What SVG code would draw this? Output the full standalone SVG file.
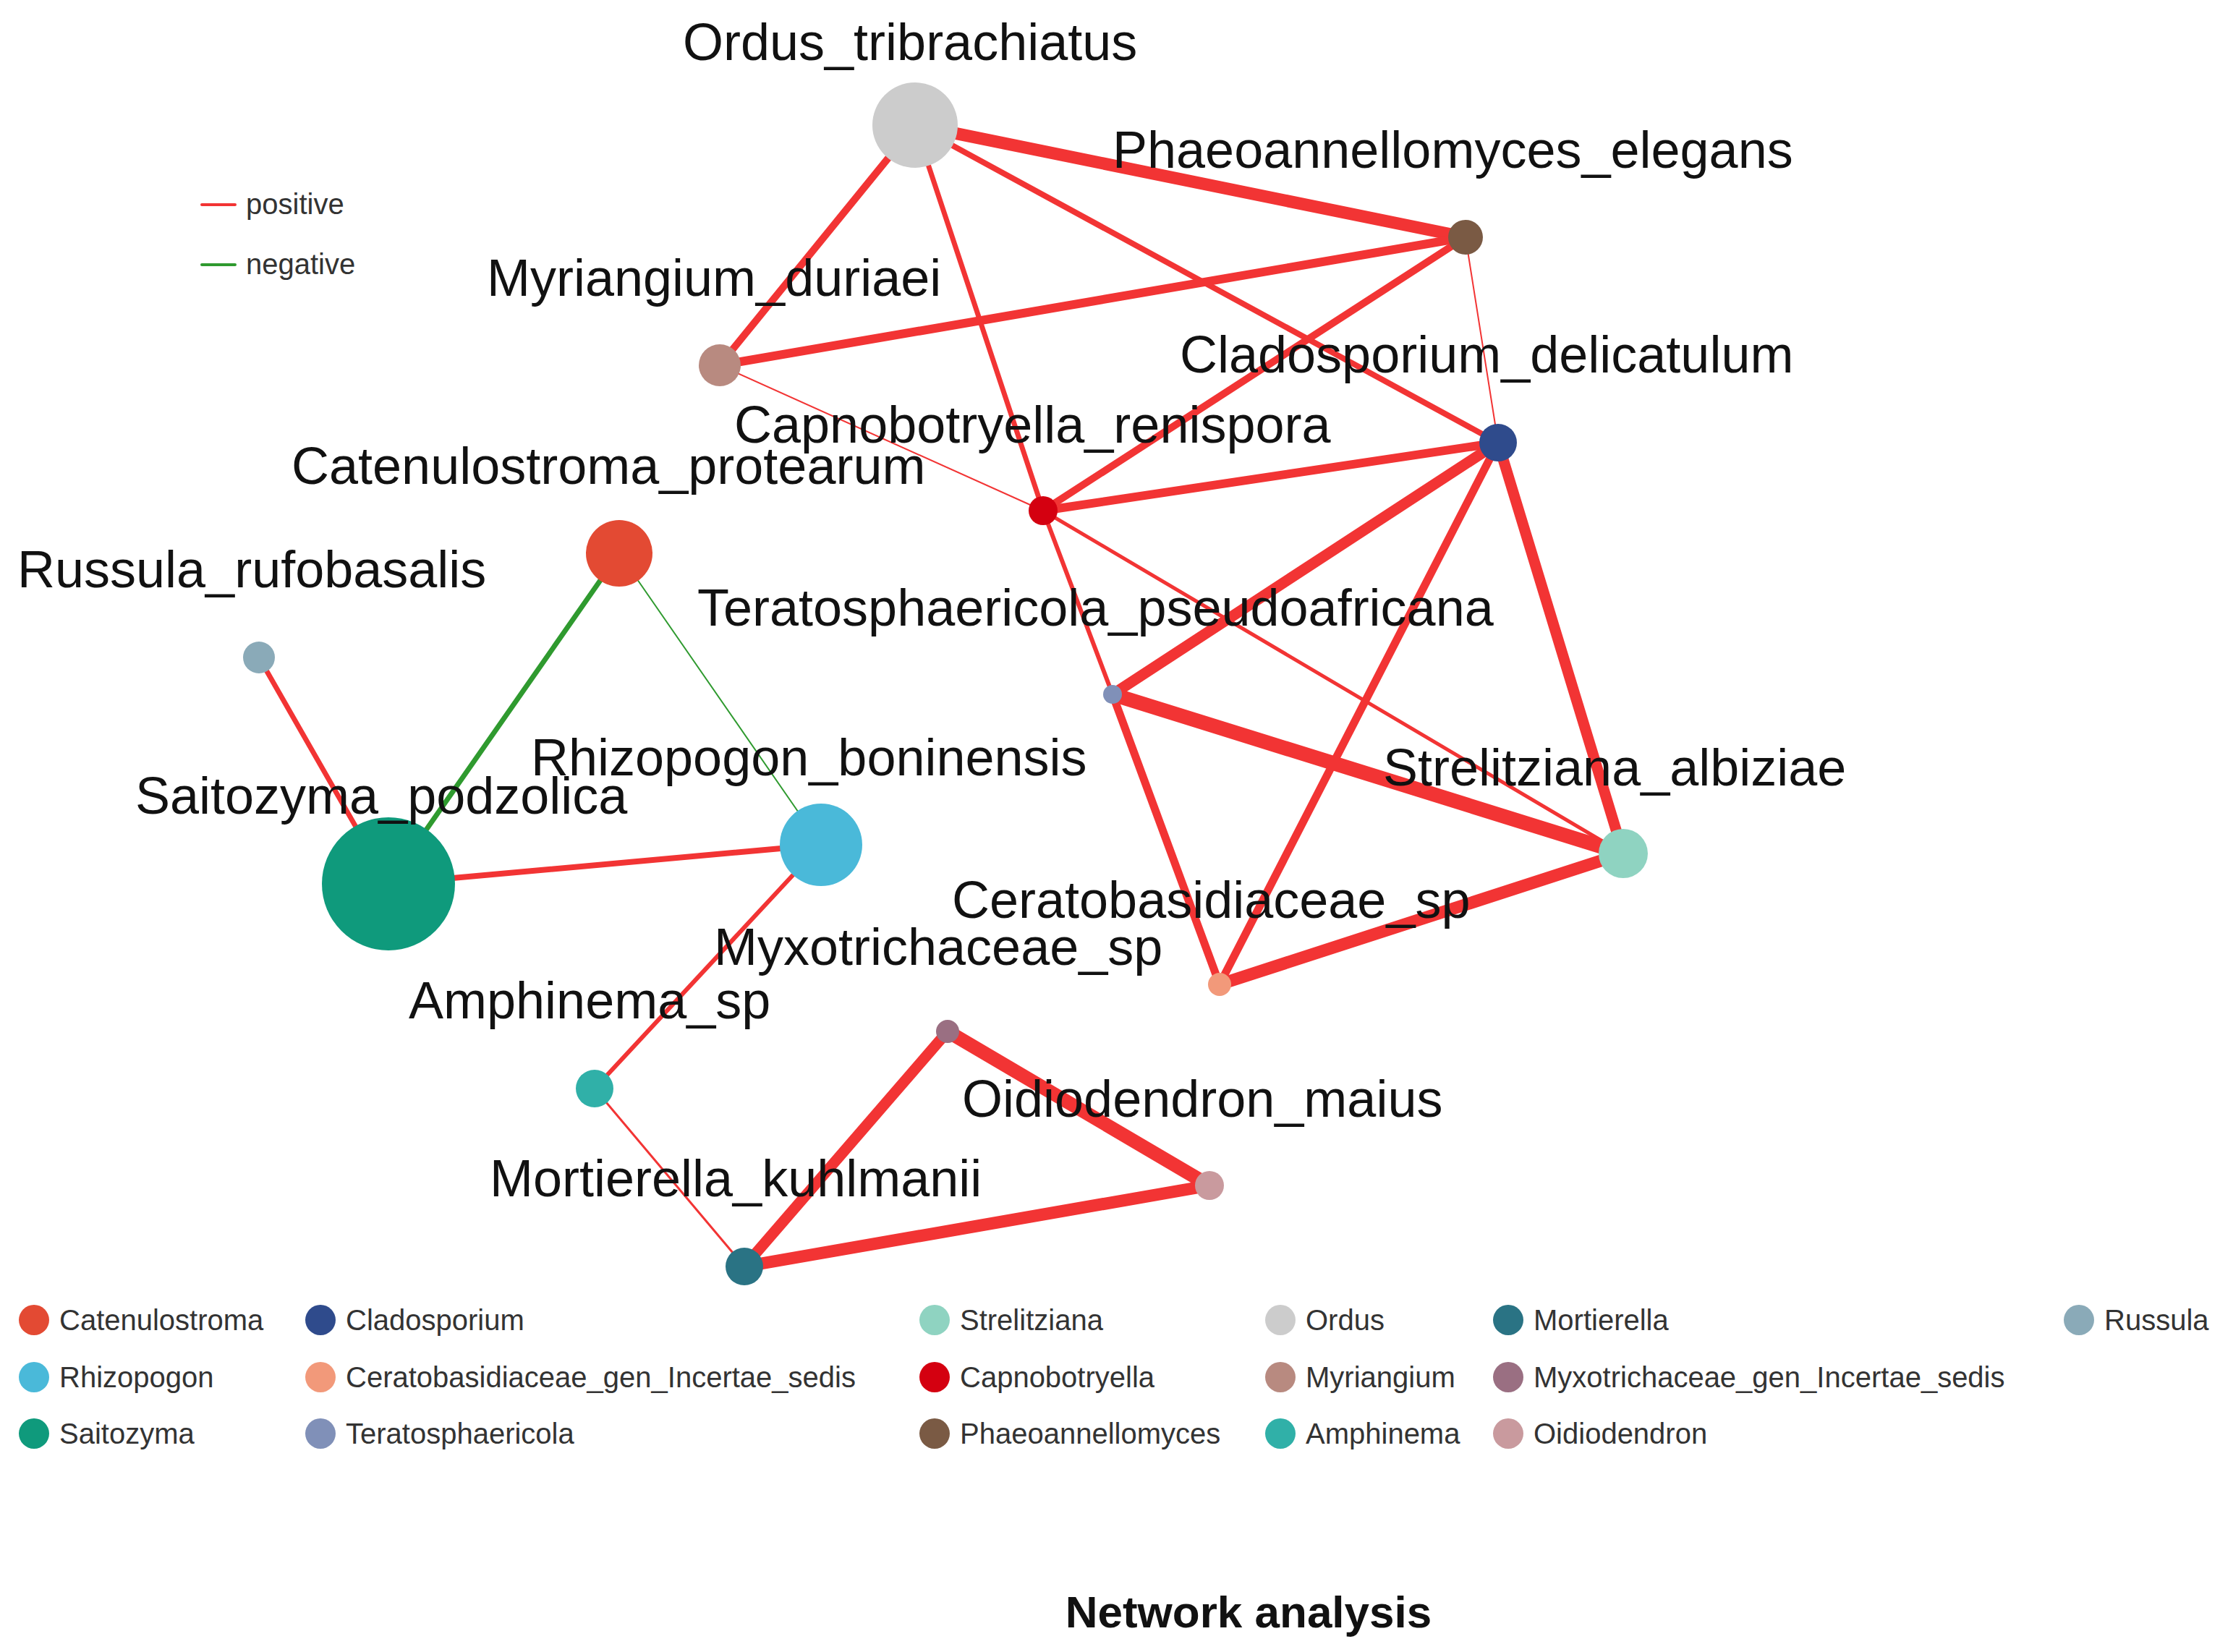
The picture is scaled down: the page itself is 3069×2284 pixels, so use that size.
<svg xmlns="http://www.w3.org/2000/svg" width="3069" height="2284" viewBox="0 0 3069 2284">
<style>
text{font-family:"Liberation Sans",Arial,sans-serif;fill:#111}
.lbl{font-size:72px}
.lg{font-size:40px;fill:#333}
.pos{stroke:#f23434;stroke-linecap:round}
.neg{stroke:#2f9a2f;stroke-linecap:round}
</style>
<rect width="3069" height="2284" fill="#fff"/>
<g id="legend-edges">
<line x1="279" y1="283" x2="325" y2="283" class="pos" stroke-width="4"/>
<text x="340" y="296" class="lg">positive</text>
<line x1="279" y1="366" x2="325" y2="366" class="neg" stroke-width="4"/>
<text x="340" y="379" class="lg">negative</text>
</g>
<g id="connectors">
<line x1="1265" y1="173" x2="2026" y2="328" class="pos" stroke-width="17"/>
<line x1="1265" y1="173" x2="995" y2="505" class="pos" stroke-width="10"/>
<line x1="1265" y1="173" x2="2071" y2="612" class="pos" stroke-width="8"/>
<line x1="1265" y1="173" x2="1442" y2="706" class="pos" stroke-width="7"/>
<line x1="2026" y1="328" x2="995" y2="505" class="pos" stroke-width="12"/>
<line x1="2026" y1="328" x2="1442" y2="706" class="pos" stroke-width="10"/>
<line x1="2026" y1="328" x2="2071" y2="612" class="pos" stroke-width="2"/>
<line x1="995" y1="505" x2="1442" y2="706" class="pos" stroke-width="2"/>
<line x1="1442" y1="706" x2="2071" y2="612" class="pos" stroke-width="12"/>
<line x1="1442" y1="706" x2="2244" y2="1180" class="pos" stroke-width="5"/>
<line x1="1442" y1="706" x2="1538" y2="960" class="pos" stroke-width="6"/>
<line x1="2071" y1="612" x2="1538" y2="960" class="pos" stroke-width="15"/>
<line x1="2071" y1="612" x2="1686" y2="1361" class="pos" stroke-width="11"/>
<line x1="2071" y1="612" x2="2244" y2="1180" class="pos" stroke-width="15"/>
<line x1="1538" y1="960" x2="2244" y2="1180" class="pos" stroke-width="20"/>
<line x1="1538" y1="960" x2="1686" y2="1361" class="pos" stroke-width="11"/>
<line x1="1686" y1="1361" x2="2244" y2="1180" class="pos" stroke-width="17"/>
<line x1="856" y1="765" x2="537" y2="1222" class="neg" stroke-width="7"/>
<line x1="856" y1="765" x2="1135" y2="1168" class="neg" stroke-width="2"/>
<line x1="358" y1="909" x2="537" y2="1222" class="pos" stroke-width="7"/>
<line x1="537" y1="1222" x2="1135" y2="1168" class="pos" stroke-width="8"/>
<line x1="1135" y1="1168" x2="822" y2="1505" class="pos" stroke-width="6"/>
<line x1="822" y1="1505" x2="1029" y2="1751" class="pos" stroke-width="3"/>
<line x1="1029" y1="1751" x2="1310" y2="1426" class="pos" stroke-width="15"/>
<line x1="1029" y1="1751" x2="1672" y2="1639" class="pos" stroke-width="17"/>
<line x1="1310" y1="1426" x2="1672" y2="1639" class="pos" stroke-width="19"/>
</g>
<g id="n-ordus"><circle cx="1265" cy="173" r="59" fill="#cccccc"/></g>
<g id="n-phaeo"><circle cx="2026" cy="328" r="24" fill="#7a5a44"/></g>
<g id="n-myriangium"><circle cx="995" cy="505" r="29" fill="#b88a80"/></g>
<g id="n-cladosporium"><circle cx="2071" cy="612" r="26" fill="#2f4b8c"/></g>
<g id="n-capno"><circle cx="1442" cy="706" r="20" fill="#d40010"/></g>
<g id="n-catenulostroma"><circle cx="856" cy="765" r="46" fill="#e34a33"/></g>
<g id="n-russula"><circle cx="358" cy="909" r="22" fill="#8aaab8"/></g>
<g id="n-teratosph"><circle cx="1538" cy="960" r="13" fill="#8090b8"/></g>
<g id="n-strelitziana"><circle cx="2244" cy="1180" r="34" fill="#8fd3c1"/></g>
<g id="n-saitozyma"><circle cx="537" cy="1222" r="92" fill="#0f9a7c"/></g>
<g id="n-rhizopogon"><circle cx="1135" cy="1168" r="57" fill="#4ab9d9"/></g>
<g id="n-ceratobas"><circle cx="1686" cy="1361" r="16" fill="#f2997a"/></g>
<g id="n-myxotrich"><circle cx="1310" cy="1426" r="16" fill="#9a6f82"/></g>
<g id="n-amphinema"><circle cx="822" cy="1505" r="26" fill="#30b0a8"/></g>
<g id="n-oidiodendron"><circle cx="1672" cy="1639" r="20" fill="#c99a9e"/></g>
<g id="n-mortierella"><circle cx="1029" cy="1751" r="26" fill="#2a7384"/></g>
<g id="labels">
<text class="lbl" x="944" y="83">Ordus_tribrachiatus</text>
<text class="lbl" x="1538" y="232">Phaeoannellomyces_elegans</text>
<text class="lbl" x="673" y="409">Myriangium_duriaei</text>
<text class="lbl" x="1631" y="515">Cladosporium_delicatulum</text>
<text class="lbl" x="1015" y="612">Capnobotryella_renispora</text>
<text class="lbl" x="403" y="669">Catenulostroma_protearum</text>
<text class="lbl" x="24" y="812">Russula_rufobasalis</text>
<text class="lbl" x="964" y="865">Teratosphaericola_pseudoafricana</text>
<text class="lbl" x="734" y="1072">Rhizopogon_boninensis</text>
<text class="lbl" x="1912" y="1086">Strelitziana_albiziae</text>
<text class="lbl" x="187" y="1125">Saitozyma_podzolica</text>
<text class="lbl" x="1316" y="1269">Ceratobasidiaceae_sp</text>
<text class="lbl" x="987" y="1334">Myxotrichaceae_sp</text>
<text class="lbl" x="565" y="1408">Amphinema_sp</text>
<text class="lbl" x="1330" y="1544">Oidiodendron_maius</text>
<text class="lbl" x="677" y="1654">Mortierella_kuhlmanii</text>
</g>
<g id="legend-genus">
<circle cx="47" cy="1825" r="21" fill="#e34a33"/><text class="lg" x="82" y="1839">Catenulostroma</text>
<circle cx="47" cy="1904" r="21" fill="#4ab9d9"/><text class="lg" x="82" y="1918">Rhizopogon</text>
<circle cx="47" cy="1982" r="21" fill="#0f9a7c"/><text class="lg" x="82" y="1996">Saitozyma</text>
<circle cx="443" cy="1825" r="21" fill="#2f4b8c"/><text class="lg" x="478" y="1839">Cladosporium</text>
<circle cx="443" cy="1904" r="21" fill="#f2997a"/><text class="lg" x="478" y="1918">Ceratobasidiaceae_gen_Incertae_sedis</text>
<circle cx="443" cy="1982" r="21" fill="#8090b8"/><text class="lg" x="478" y="1996">Teratosphaericola</text>
<circle cx="1292" cy="1825" r="21" fill="#8fd3c1"/><text class="lg" x="1327" y="1839">Strelitziana</text>
<circle cx="1292" cy="1904" r="21" fill="#d40010"/><text class="lg" x="1327" y="1918">Capnobotryella</text>
<circle cx="1292" cy="1982" r="21" fill="#7a5a44"/><text class="lg" x="1327" y="1996">Phaeoannellomyces</text>
<circle cx="1770" cy="1825" r="21" fill="#cccccc"/><text class="lg" x="1805" y="1839">Ordus</text>
<circle cx="1770" cy="1904" r="21" fill="#b88a80"/><text class="lg" x="1805" y="1918">Myriangium</text>
<circle cx="1770" cy="1982" r="21" fill="#30b0a8"/><text class="lg" x="1805" y="1996">Amphinema</text>
<circle cx="2085" cy="1825" r="21" fill="#2a7384"/><text class="lg" x="2120" y="1839">Mortierella</text>
<circle cx="2085" cy="1904" r="21" fill="#9a6f82"/><text class="lg" x="2120" y="1918">Myxotrichaceae_gen_Incertae_sedis</text>
<circle cx="2085" cy="1982" r="21" fill="#c99a9e"/><text class="lg" x="2120" y="1996">Oidiodendron</text>
<circle cx="2874" cy="1825" r="21" fill="#8aaab8"/><text class="lg" x="2909" y="1839">Russula</text>
</g>
<text x="1726" y="2250" text-anchor="middle" font-size="62" font-weight="bold">Network analysis</text>
</svg>
